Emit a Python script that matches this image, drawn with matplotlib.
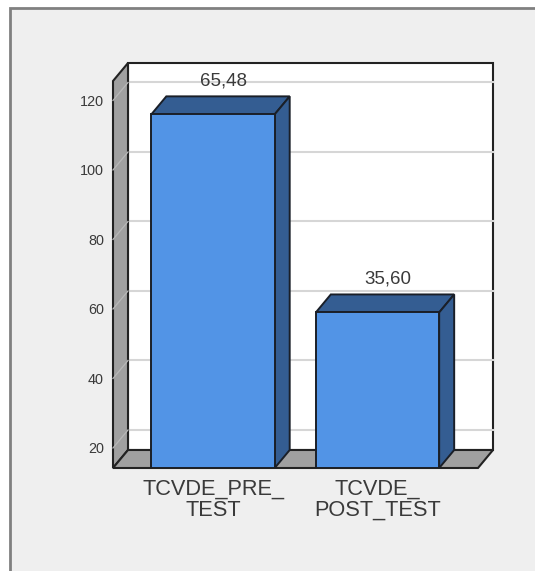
# 3D-look bar chart, pre / post test means
import matplotlib
matplotlib.use('Agg')
import matplotlib.pyplot as plt
from matplotlib.patches import Polygon, Rectangle

categories = ['TCVDE_PRE_\nTEST', 'TCVDE_\nPOST_TEST']
bar_heights = [116, 59]
bar_labels = ['65,48', '35,60']
y_ticks = [20, 40, 60, 80, 100, 120]

plt.rcParams['font.family'] = ['Liberation Sans', 'DejaVu Sans']

W, H = 535, 571
fig = plt.figure(figsize=(W / 100, H / 100), dpi=100, facecolor='white')

# grey panel, only left and top border show
fig.add_artist(Rectangle((10 / W, -0.1), 1, 0.1 + (H - 8) / H, transform=fig.transFigure,
                         facecolor='#efefef', edgecolor='#808080', linewidth=2, zorder=-1))

ax = fig.add_axes([113 / W, (H - 468) / H, 365 / W, 387 / H])
ax.patch.set_visible(False)
for s in ax.spines.values():
    s.set_visible(False)

y0, y1 = 14.24, 125.6
x0, x1 = -0.608, 1.611
ax.set_xlim(x0, x1)
ax.set_ylim(y0, y1)

# depth of the fake 3D, in data units
dx = 15 / 164.5
dy = 18 / 3.475
bar_w = 0.75
edge = '#1a1f28'
wall_lw = 1.5

# back wall, left wall, floor
ax.add_patch(Polygon([(x0 + dx, y0 + dy), (x1 + dx, y0 + dy), (x1 + dx, y1 + dy), (x0 + dx, y1 + dy)],
                     facecolor='white', edgecolor='#222222', linewidth=wall_lw, clip_on=False, zorder=1))
ax.add_patch(Polygon([(x0, y0), (x0 + dx, y0 + dy), (x0 + dx, y1 + dy), (x0, y1)],
                     facecolor='#a0a0a0', edgecolor='#222222', linewidth=wall_lw, clip_on=False, zorder=2))
ax.add_patch(Polygon([(x0, y0), (x1, y0), (x1 + dx, y0 + dy), (x0 + dx, y0 + dy)],
                     facecolor='#a0a0a0', edgecolor='#222222', linewidth=wall_lw, clip_on=False, zorder=2))

# gridlines
for t in y_ticks:
    ax.plot([x0 + dx, x1 + dx], [t + dy, t + dy], color='#d6d6d6', lw=1.5, clip_on=False, zorder=1.5)
    ax.plot([x0, x0 + dx], [t, t + dy], color='#b8b8b8', lw=0.9, clip_on=False, zorder=3)

# bars
for i, h in enumerate(bar_heights):
    l, r = i - bar_w / 2, i + bar_w / 2
    ax.add_patch(Polygon([(l, h), (r, h), (r + dx, h + dy), (l + dx, h + dy)],
                         facecolor='#345d92', edgecolor=edge, linewidth=1.4, zorder=4))
    ax.add_patch(Polygon([(r, y0), (r + dx, y0 + dy), (r + dx, h + dy), (r, h)],
                         facecolor='#345d92', edgecolor=edge, linewidth=1.4, zorder=4))
    ax.add_patch(Rectangle((l, y0), bar_w, h - y0, facecolor='#5294e6', edgecolor=edge,
                           linewidth=1.4, zorder=5))
    ax.annotate(bar_labels[i], (i + dx * 0.7, h + dy), xytext=(0, 5), textcoords='offset points',
                ha='center', va='bottom', fontsize=13.5, color='#3a3a3a', zorder=6)

ax.set_yticks(y_ticks)
ax.set_xticks([0, 1])
ax.set_xticklabels(categories, fontsize=15.7, color='#3a3a3a', linespacing=1.0)
ax.tick_params(axis='both', length=0)
ax.tick_params(axis='y', labelsize=10.4, labelcolor='#3a3a3a', pad=6.5)
ax.tick_params(axis='x', pad=8)

fig.savefig('out.png', dpi=100)
